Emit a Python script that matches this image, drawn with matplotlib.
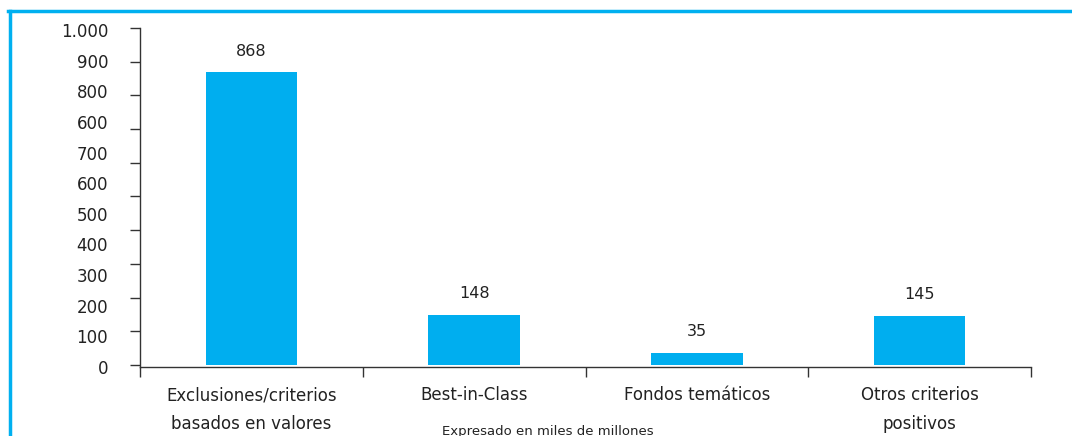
import numpy as np
import matplotlib.pyplot as plt
from matplotlib.lines import Line2D

categories = ["Exclusiones/criterios\nbasados en valores", "Best-in-Class",
              "Fondos temáticos", "Otros criterios\npositivos"]
values = [868, 148, 35, 145]
# y labels as printed in the original (12 labels over 11 tick marks)
ytick_labels = ["1.000", "900", "800", "600", "700", "600", "500", "400",
                "300", "200", "100", "0"]
ytick_marks = list(range(0, 1001, 100))

blue = "#00AEEF"
plt.rcParams['font.family'] = ['DejaVu Sans']

fig = plt.figure(figsize=(10.72, 4.36), dpi=100)
ax = fig.add_axes([0.1306, 0.1583, 0.9618 - 0.1306, 0.9358 - 0.1583])

x = np.arange(len(categories))
bars = ax.bar(x, values, width=0.41, color=blue)
ax.bar_label(bars, labels=[str(v) for v in values], padding=10, fontsize=11.5,
             color='#222222')

ax.set_xlim(-0.5, len(categories) - 0.5)
ax.set_ylim(0, 1000)

# tick marks on the real scale, labels placed as in the source
ax.set_yticks(ytick_marks, minor=True)
label_pos = np.linspace(994, -6, len(ytick_labels))
ax.set_yticks(label_pos)
ax.set_yticklabels(ytick_labels, fontsize=12, color='#222222')
ax.tick_params(axis='y', which='major', length=0, pad=23)
ax.tick_params(axis='y', which='minor', length=7.2, width=1, color='#333333')

ax.set_xticks(x)
ax.set_xticklabels(categories, fontsize=12, linespacing=1.75, va='top',
                   color='#222222')
ax.set_xticks(np.arange(-0.5, len(categories)), minor=True)
ax.tick_params(axis='x', which='major', length=0, pad=14)
ax.tick_params(axis='x', which='minor', length=7, width=1, color='#333333')

for side in ['top', 'right']:
    ax.spines[side].set_visible(False)
for side in ['left', 'bottom']:
    ax.spines[side].set_color('#333333')
    ax.spines[side].set_linewidth(1)

fig.text(548 / 1072, 1 - 431 / 436, "Expresado en miles de millones",
         fontsize=9.5, ha='center', va='center', color='#222222')

# light blue frame at top and left
fig.add_artist(Line2D([8 / 1072, 1.0], [1 - 11 / 436, 1 - 11 / 436],
                      transform=fig.transFigure, color='#00B0F0', lw=2.5))
fig.add_artist(Line2D([9.5 / 1072, 9.5 / 1072], [0, 1 - 11 / 436],
                      transform=fig.transFigure, color='#00B0F0', lw=2.5))

fig.savefig("out.png", dpi=100)
